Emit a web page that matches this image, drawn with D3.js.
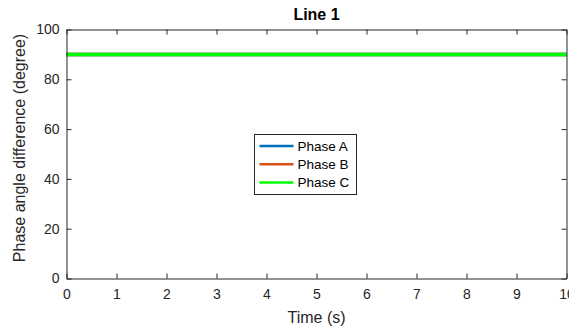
<!DOCTYPE html>
<html>
<head>
<meta charset="utf-8">
<script src="https://cdn.jsdelivr.net/npm/d3@7"></script>
<style>
  body { margin: 0; background: #fff; }
  text { font-family: "Liberation Sans", Arial, sans-serif; fill: #262626; }
</style>
</head>
<body>
<div id="chart"></div>
<script>
// data
var time = [0, 10];
var phaseA = [90, 90];
var phaseB = [90, 90];
var phaseC = [90, 90];
var seriesNames = ["Phase A", "Phase B", "Phase C"];
var seriesColors = ["#0072BD", "#D95319", "#00FF00"];
var xTicks = [0, 1, 2, 3, 4, 5, 6, 7, 8, 9, 10];
var yTicks = [0, 20, 40, 60, 80, 100];

var width = 569, height = 330;
var margin = {top: 29.5, right: 3, bottom: 52, left: 66.5};
var w = 566.5 - margin.left, h = 278.5 - margin.top;

var svg = d3.select("#chart").append("svg")
    .attr("width", width)
    .attr("height", height);

var g = svg.append("g")
    .attr("transform", "translate(" + margin.left + "," + margin.top + ")");

var x = d3.scaleLinear().domain([0, 10]).range([0, w]);
var y = d3.scaleLinear().domain([0, 100]).range([h, 0]);

// lines
var series = [phaseA, phaseB, phaseC];
var line = d3.line()
    .x(function (d, i) { return x(time[i]); })
    .y(function (d) { return y(d); });

series.forEach(function (s, i) {
  g.append("path")
    .datum(s)
    .attr("fill", "none")
    .attr("stroke", seriesColors[i])
    .attr("stroke-width", 3.5)
    .attr("d", line);
});

// axes, ticks inside like matlab
function styleAxis(sel) {
  sel.select(".domain").attr("stroke", "#262626");
  sel.selectAll(".tick line").attr("stroke", "#262626");
  sel.selectAll(".tick text").style("font-size", "14px").attr("fill", "#262626");
}

g.append("g")
  .attr("transform", "translate(0," + h + ")")
  .call(d3.axisBottom(x).tickValues(xTicks).tickSizeInner(-5).tickSizeOuter(0).tickPadding(11))
  .call(styleAxis);

g.append("g")
  .call(d3.axisLeft(y).tickValues(yTicks).tickSizeInner(-5).tickSizeOuter(0).tickPadding(7))
  .call(styleAxis);

g.append("g")
  .call(d3.axisTop(x).tickValues(xTicks).tickSizeInner(-5).tickSizeOuter(0).tickFormat(""))
  .call(styleAxis);

g.append("g")
  .attr("transform", "translate(" + w + ",0)")
  .call(d3.axisRight(y).tickValues(yTicks).tickSizeInner(-5).tickSizeOuter(0).tickFormat(""))
  .call(styleAxis);

// title and labels
svg.append("text")
  .attr("x", margin.left + w / 2)
  .attr("y", 20)
  .attr("text-anchor", "middle")
  .style("font-size", "16px")
  .style("font-weight", "bold")
  .style("fill", "#000")
  .text("Line 1");

svg.append("text")
  .attr("x", margin.left + w / 2)
  .attr("y", 323)
  .attr("text-anchor", "middle")
  .style("font-size", "16px")
  .text("Time (s)");

svg.append("text")
  .attr("transform", "translate(24.5,148)rotate(-90)")
  .attr("text-anchor", "middle")
  .style("font-size", "16px")
  .text("Phase angle difference (degree)");

// legend
var legend = svg.append("g").attr("transform", "translate(254.5,134.5)");
legend.append("rect")
  .attr("width", 102)
  .attr("height", 60)
  .attr("fill", "#fff")
  .attr("stroke", "#262626")
  .attr("stroke-width", 1);

seriesNames.forEach(function (name, i) {
  var ly = 11.5 + i * 18.3;
  legend.append("line")
    .attr("x1", 5).attr("x2", 39)
    .attr("y1", ly).attr("y2", ly)
    .attr("stroke", seriesColors[i])
    .attr("stroke-width", 2.5);
  legend.append("text")
    .attr("x", 43)
    .attr("y", ly + 4.7)
    .style("font-size", "13.5px")
    .style("fill", "#000")
    .text(name);
});
</script>
</body>
</html>
